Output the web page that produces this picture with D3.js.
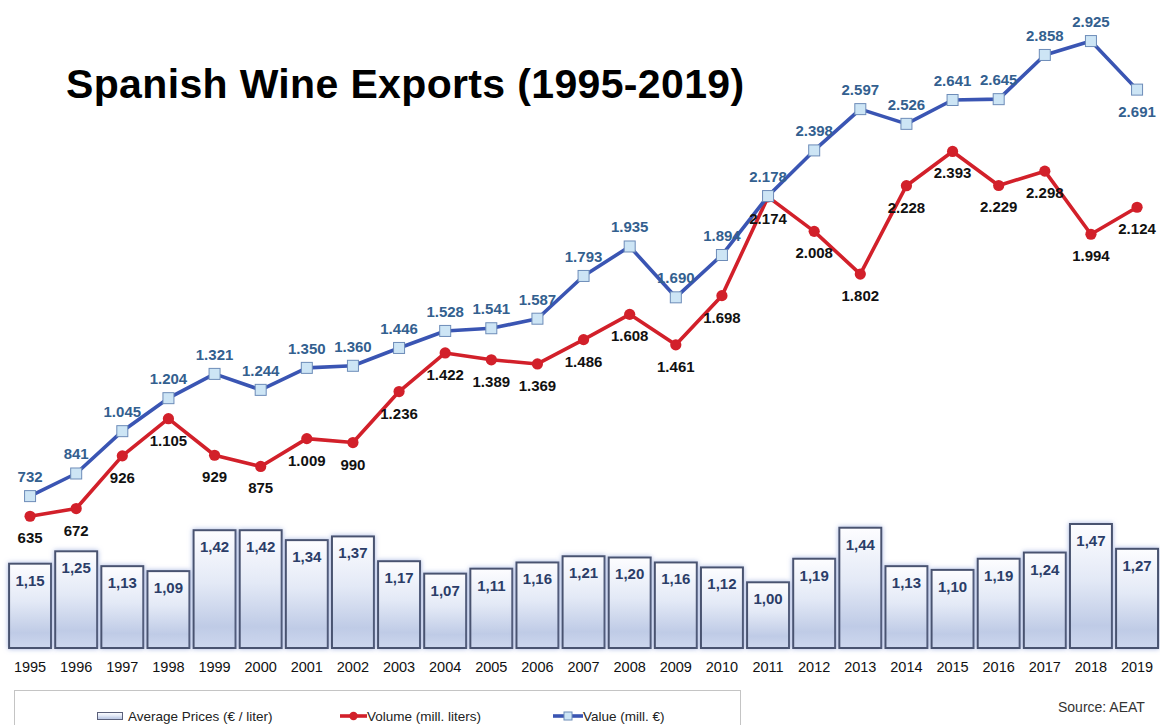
<!DOCTYPE html>
<html>
<head>
<meta charset="utf-8">
<script src="https://cdn.jsdelivr.net/npm/d3@7"></script>
<style>
  html, body { margin: 0; padding: 0; background: #ffffff; }
  svg { display: block; font-family: "Liberation Sans", Arial, sans-serif; }
</style>
</head>
<body>
<svg id="chart" width="1160" height="725"></svg>
<script>
// Spanish wine exports 1995-2019
const years = ["1995","1996","1997","1998","1999","2000","2001","2002","2003","2004","2005","2006",
               "2007","2008","2009","2010","2011","2012","2013","2014","2015","2016","2017","2018","2019"];
const avgPrice = [1.15,1.25,1.13,1.09,1.42,1.42,1.34,1.37,1.17,1.07,1.11,1.16,
                  1.21,1.20,1.16,1.12,1.00,1.19,1.44,1.13,1.10,1.19,1.24,1.47,1.27];
const volume = [635,672,926,1105,929,875,1009,990,1236,1422,1389,1369,
                1486,1608,1461,1698,2174,2008,1802,2228,2393,2229,2298,1994,2124];
const value = [732,841,1045,1204,1321,1244,1350,1360,1446,1528,1541,1587,
               1793,1935,1690,1894,2178,2398,2597,2526,2641,2645,2858,2925,2691];
const legendLabels = ["Average Prices (€ / liter)", "Volume (mill. liters)", "Value (mill. €)"];

const svg = d3.select("#chart");
const baseY = 648;

const x = d3.scaleBand().domain(years).range([7, 7 + 25 * 46.125]).paddingInner(0.09).paddingOuter(0.045);
const cx = d => x(d) + x.bandwidth() / 2;
const yBar = d3.scaleLinear().domain([0.47, 1.47]).range([baseY, 524]);
const yLine = d3.scaleLinear().domain([0, 3000]).range([baseY, 25.5]);

const fmtThousands = v => d3.format(",")(v).replace(/,/g, ".");
const fmtDecimal = v => d3.format(".2f")(v).replace(".", ",");

// defs: bar gradient + soft halo
const defs = svg.append("defs");
const grad = defs.append("linearGradient").attr("id", "barGrad")
  .attr("x1", 0).attr("y1", 0).attr("x2", 0).attr("y2", 1);
grad.append("stop").attr("offset", "0%").attr("stop-color", "#fdfdff");
grad.append("stop").attr("offset", "45%").attr("stop-color", "#e3e9f6");
grad.append("stop").attr("offset", "82%").attr("stop-color", "#bfcbe6");
grad.append("stop").attr("offset", "100%").attr("stop-color", "#cdd7ee");

const glow = defs.append("filter").attr("id", "halo")
  .attr("x", "-20%").attr("y", "-20%").attr("width", "140%").attr("height", "140%");
glow.append("feGaussianBlur").attr("in", "SourceAlpha").attr("stdDeviation", 2.4).attr("result", "b");
glow.append("feFlood").attr("flood-color", "#9daede").attr("flood-opacity", 0.9);
glow.append("feComposite").attr("in2", "b").attr("operator", "in").attr("result", "g");
const merge = glow.append("feMerge");
merge.append("feMergeNode").attr("in", "g");
merge.append("feMergeNode").attr("in", "SourceGraphic");

// Title
svg.append("text")
  .attr("x", 66).attr("y", 98)
  .attr("font-size", 41).attr("font-weight", "bold").attr("fill", "#000")
  .attr("letter-spacing", 0.35)
  .text("Spanish Wine Exports (1995-2019)");

// Price bars
const bars = svg.append("g");
bars.selectAll("rect").data(years).join("rect")
  .attr("x", d => x(d)).attr("width", x.bandwidth())
  .attr("y", (d, i) => yBar(avgPrice[i]))
  .attr("height", (d, i) => baseY - yBar(avgPrice[i]))
  .attr("fill", "url(#barGrad)")
  .attr("stroke", "#48526f").attr("stroke-width", 2)
  .attr("filter", "url(#halo)");

bars.selectAll("text").data(years).join("text")
  .attr("x", d => cx(d))
  .attr("y", (d, i) => yBar(avgPrice[i]) + 22)
  .attr("text-anchor", "middle")
  .attr("font-size", 15).attr("font-weight", "bold").attr("fill", "#2b3d68")
  .text((d, i) => fmtDecimal(avgPrice[i]));

// Year axis labels
svg.append("g").selectAll("text").data(years).join("text")
  .attr("x", d => cx(d)).attr("y", 672)
  .attr("text-anchor", "middle")
  .attr("font-size", 14.5).attr("fill", "#111")
  .text(d => d);

// Lines
const lineGen = arr => d3.line().x((d, i) => cx(years[i])).y(d => yLine(d))(arr);

svg.append("path").attr("d", lineGen(volume))
  .attr("fill", "none").attr("stroke", "#d2202a").attr("stroke-width", 3.6).attr("stroke-linejoin", "round");
svg.append("path").attr("d", lineGen(value))
  .attr("fill", "none").attr("stroke", "#3a55b3").attr("stroke-width", 3.6).attr("stroke-linejoin", "round");

svg.append("g").selectAll("circle").data(volume).join("circle")
  .attr("cx", (d, i) => cx(years[i])).attr("cy", d => yLine(d))
  .attr("r", 5.6).attr("fill", "#d2202a");

const sq = 11;
svg.append("g").selectAll("rect").data(value).join("rect")
  .attr("x", (d, i) => cx(years[i]) - sq / 2).attr("y", d => yLine(d) - sq / 2)
  .attr("width", sq).attr("height", sq)
  .attr("fill", "#cde5f5").attr("stroke", "#6d8cb8").attr("stroke-width", 1);

// Data labels: value above (last one below), volume below
const valueBelow = new Set(["2019"]);
svg.append("g").selectAll("text").data(value).join("text")
  .attr("x", (d, i) => cx(years[i]))
  .attr("y", (d, i) => yLine(d) + (valueBelow.has(years[i]) ? 27 : -14))
  .attr("text-anchor", "middle")
  .attr("font-size", 15).attr("font-weight", "bold").attr("fill", "#33608f")
  .text(d => fmtThousands(d));

svg.append("g").selectAll("text").data(volume).join("text")
  .attr("x", (d, i) => cx(years[i]))
  .attr("y", d => yLine(d) + 27)
  .attr("text-anchor", "middle")
  .attr("font-size", 15).attr("font-weight", "bold").attr("fill", "#111")
  .text(d => fmtThousands(d));

// Legend
const lg = svg.append("g");
lg.append("rect").attr("x", 14.5).attr("y", 690.5).attr("width", 726).attr("height", 60)
  .attr("fill", "#fff").attr("stroke", "#c4c4c4").attr("stroke-width", 1);

const legY = 716;
lg.append("rect").attr("x", 97.5).attr("y", legY - 3.5).attr("width", 25).attr("height", 7)
  .attr("fill", "url(#barGrad)").attr("stroke", "#5a607a").attr("stroke-width", 1);
lg.append("text").attr("x", 128).attr("y", legY + 5).attr("font-size", 13.5).attr("fill", "#222")
  .text(legendLabels[0]);

lg.append("line").attr("x1", 340).attr("x2", 367).attr("y1", legY).attr("y2", legY)
  .attr("stroke", "#d2202a").attr("stroke-width", 3.6);
lg.append("circle").attr("cx", 353.5).attr("cy", legY).attr("r", 4.2).attr("fill", "#d2202a");
lg.append("text").attr("x", 367).attr("y", legY + 5).attr("font-size", 13.5).attr("fill", "#222")
  .text(legendLabels[1]);

lg.append("line").attr("x1", 553).attr("x2", 583).attr("y1", legY).attr("y2", legY)
  .attr("stroke", "#3a55b3").attr("stroke-width", 3.6);
lg.append("rect").attr("x", 564).attr("y", legY - 4).attr("width", 8).attr("height", 8)
  .attr("fill", "#cde5f5").attr("stroke", "#6d8cb8").attr("stroke-width", 1);
lg.append("text").attr("x", 583).attr("y", legY + 5).attr("font-size", 13.5).attr("fill", "#222")
  .text(legendLabels[2]);

// Source note
svg.append("text").attr("x", 1058).attr("y", 712)
  .attr("font-size", 14).attr("fill", "#333")
  .text("Source: AEAT");
</script>
</body>
</html>
